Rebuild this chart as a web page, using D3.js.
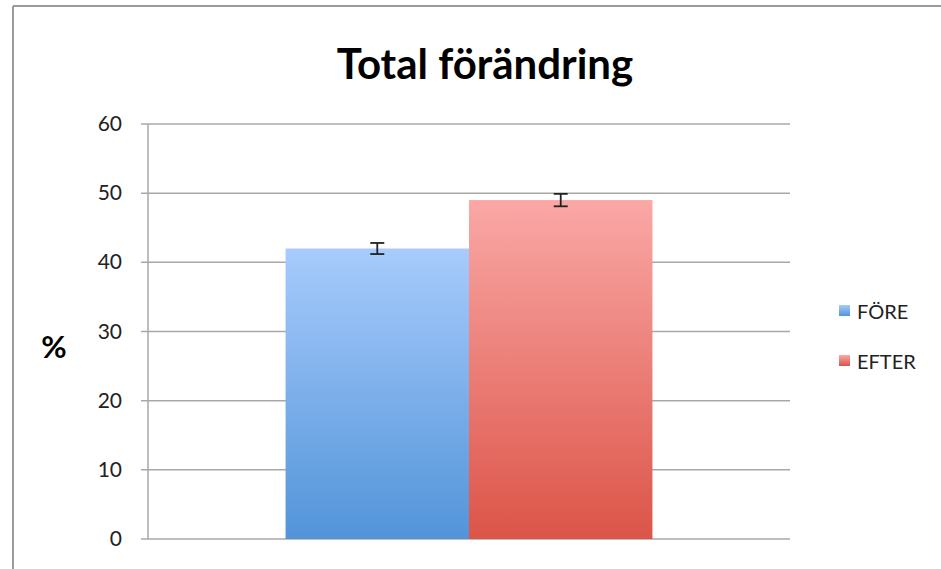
<!DOCTYPE html>
<html><head><meta charset="utf-8">
<script src="https://cdn.jsdelivr.net/npm/d3@7"></script>
<style>body{margin:0;background:#fff}svg{display:block}text{font-family:Lato,"Open Sans",sans-serif}</style>
</head><body>
<svg id="c" width="941" height="569"></svg>
<script>
const categories = ["FÖRE", "EFTER"];
const values = [42, 49];
const errors = [0.8, 0.9];
const yTicks = [0, 10, 20, 30, 40, 50, 60];
const title = "Total förändring";
const yLabel = "%";

const svg = d3.select("#c");
const W = 941, H = 569;
const m = {left:148, right:151, top:124, bottom:30};
const x0 = m.left, x1 = W - m.right, y0 = H - m.bottom, y1 = m.top;

// frame
svg.append("line").attr("x1",13).attr("x2",W).attr("y1",6).attr("y2",6).attr("stroke","#9a9a9a").attr("stroke-width",2);
svg.append("line").attr("x1",13).attr("x2",13).attr("y1",6).attr("y2",H).attr("stroke","#9a9a9a").attr("stroke-width",2);

const colors = {"FÖRE":["#a7cbfc","#5294d9"], "EFTER":["#faa8a6","#dc5448"]};
const defs = svg.append("defs");
categories.forEach((c,i)=>{
  const g = defs.append("linearGradient").attr("id","g"+i).attr("x1",0).attr("x2",0).attr("y1",0).attr("y2",1);
  g.append("stop").attr("offset","0%").attr("stop-color",colors[c][0]);
  g.append("stop").attr("offset","100%").attr("stop-color",colors[c][1]);
});

const y = d3.scaleLinear().domain([0,60]).range([y0,y1]);
const xGroup = d3.scaleBand().domain(["g"]).range([x0,x1]).paddingInner(0).paddingOuter(0.375);
const xs = d3.scaleBand().domain(categories).range([xGroup("g"), xGroup("g")+xGroup.bandwidth()]);

// gridlines
svg.append("g").selectAll("line").data(yTicks).join("line")
  .attr("x1",x0-7).attr("x2",x1).attr("y1",d=>y(d)).attr("y2",d=>y(d))
  .attr("stroke","#a8a8a8").attr("stroke-width",1.5);
// y axis line
svg.append("line").attr("x1",x0).attr("x2",x0).attr("y1",y1).attr("y2",y0).attr("stroke","#a8a8a8").attr("stroke-width",1.5);

// tick labels
svg.append("g").selectAll("text").data(yTicks).join("text")
  .attr("x",122).attr("y",d=>y(d)+7).attr("text-anchor","end")
  .attr("font-size",21).attr("fill","#222").text(d=>d);

// bars
svg.append("g").selectAll("rect").data(values).join("rect")
  .attr("x",(d,i)=>xs(categories[i])).attr("width",xs.bandwidth())
  .attr("y",d=>y(d)).attr("height",d=>y(0)-y(d))
  .attr("fill",(d,i)=>`url(#g${i})`);

// error bars
const eb = svg.append("g").attr("stroke","#222").attr("stroke-width",1.8);
values.forEach((v,i)=>{
  const cx = xs(categories[i]) + xs.bandwidth()/2;
  eb.append("line").attr("x1",cx).attr("x2",cx).attr("y1",y(v+errors[i])).attr("y2",y(v-errors[i]));
  eb.append("line").attr("x1",cx-7).attr("x2",cx+7).attr("y1",y(v+errors[i])).attr("y2",y(v+errors[i]));
  eb.append("line").attr("x1",cx-7).attr("x2",cx+7).attr("y1",y(v-errors[i])).attr("y2",y(v-errors[i]));
});

// title
svg.append("text").attr("x",485).attr("y",79).attr("text-anchor","middle")
  .attr("font-size",42).attr("font-weight","bold").attr("fill","#000").text(title);
// y label
svg.append("text").attr("x",54).attr("y",358).attr("text-anchor","middle")
  .attr("font-size",31).attr("font-weight","bold").attr("fill","#000").text(yLabel);

// legend
const lg = svg.append("g");
categories.forEach((c,i)=>{
  const ly = 311 + i*50;
  lg.append("rect").attr("x",839).attr("y",ly-6).attr("width",11).attr("height",11).attr("fill",`url(#g${i})`);
  lg.append("text").attr("x",857).attr("y",ly+8).attr("font-size",20).attr("fill","#222").text(c);
});
</script>
</body></html>
